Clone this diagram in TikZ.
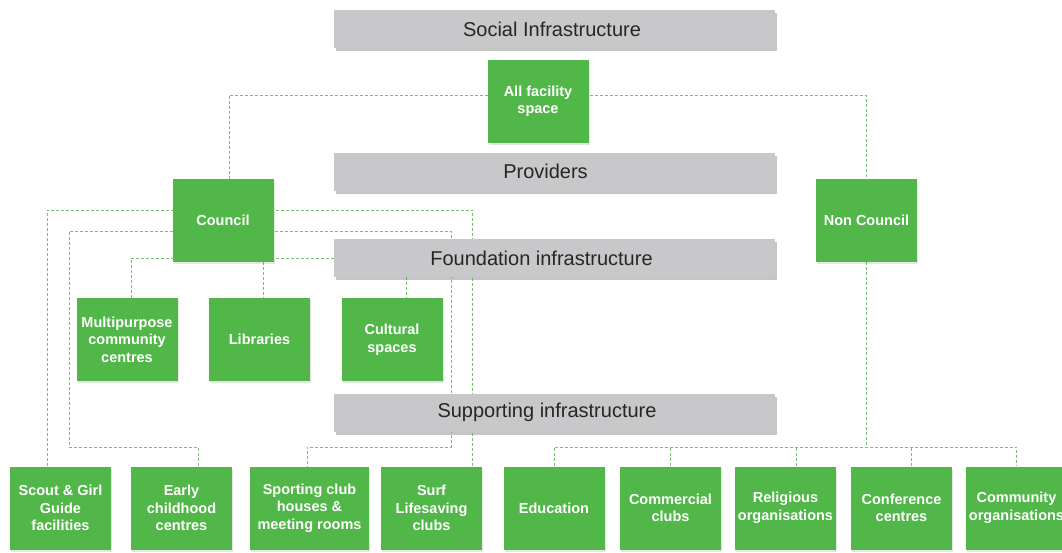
\documentclass[tikz,border=0pt]{standalone}
\usepackage{fontspec}
\setmainfont{Liberation Sans}
\usetikzlibrary{shadows}
\definecolor{leaf}{RGB}{80,183,72}
\definecolor{linkgreen}{RGB}{118,194,108}
\definecolor{barfill}{RGB}{200,200,202}
\pgfdeclarelayer{back}
\pgfsetlayers{back,main}

\begin{document}
\begin{tikzpicture}[x=1pt, y=-1pt,
    bar/.style={fill=barfill, minimum width=441pt, minimum height=38pt, inner sep=0pt,
        font=\fontsize{20}{24}\selectfont, text=black!85,
        drop shadow={shadow xshift=1.5pt, shadow yshift=-3pt, opacity=0.45}},
    box/.style={fill=leaf, minimum width=101pt, minimum height=83pt, inner sep=0pt,
        align=center, text=white, font=\fontsize{14.5}{17.5}\selectfont\bfseries,
        drop shadow={shadow xshift=1pt, shadow yshift=-2pt, opacity=0.2}},
    link/.style={linkgreen, line width=0.9pt, dash pattern=on 3pt off 2pt}]
\useasboundingbox (0,0) rectangle (1062,552);

% levels
\node[bar] (social) at (554.5,29) {Social Infrastructure\hspace*{5pt}};
\node[bar] (providers) at (554.5,171.5) {Providers\hspace*{18pt}};
\node[bar] (foundation) at (554.5,258) {Foundation infrastructure\hspace*{26pt}};
\node[bar] (supporting) at (554.5,412.5) {Supporting infrastructure\hspace*{15pt}};

% boxes
\node[box] (all) at (538,101) {All facility\\space};
\node[box] (council) at (223,220.5) {Council};
\node[box] (noncouncil) at (866.5,220) {Non Council};
\node[box] (multi) at (127,339.5) {Multipurpose\\community\\centres};
\node[box] (libraries) at (259.5,339.5) {Libraries};
\node[box] (cultural) at (392,339.5) {Cultural\\spaces};
\node[box] (scout) at (60.5,508) {Scout \& Girl\\Guide\\facilities};
\node[box] (early) at (181.5,508) {Early\\childhood\\centres};
\node[box, minimum width=119pt] (sporting) at (309.5,508) {Sporting club\\houses \&\\meeting rooms};
\node[box] (surf) at (431.5,508) {Surf\\Lifesaving\\clubs};
\node[box] (education) at (554,508) {Education};
\node[box] (commercial) at (670.5,508) {Commercial\\clubs};
\node[box] (religious) at (785.5,508) {Religious\\organisations};
\node[box] (conference) at (901.5,508) {Conference\\centres};
\node[box] (community) at (1016.5,508) {Community\\organisations};

\coordinate (e1) at (69,447);
\coordinate (e2) at (451,447);

\begin{pgfonlayer}{back}
\fill[white] (0,0) rectangle (1062,552);
% providers
\draw[link] ([xshift=6pt]council.north) |- ([yshift=6pt]all.center) -| (noncouncil.north);
% council
\draw[link] ([xshift=-13.5pt]scout.north) |- ([yshift=10.5pt]council.center) -| ([xshift=41pt]surf.north);
\draw[link] ([xshift=16.5pt]early.north) |- (e1) |- ([yshift=-10.5pt]council.center) -| (e2) -| ([xshift=-2.5pt]sporting.north);
\draw[link] ([xshift=4pt]multi.north) |- (foundation.west);
\draw[link] ([xshift=40pt]council.south) -- ([xshift=3.5pt]libraries.north);
\draw[link] ([xshift=-148.5pt]foundation.south) -- ([xshift=14pt]cultural.north);
% non council
\draw[link] (noncouncil.south) -- (noncouncil.south |- e1);
\draw[link] (education.north) |- (e1 -| community.north) -- (community.north);
\draw[link] (commercial.north) -- (commercial.north |- e1);
\draw[link] ([xshift=10.5pt]religious.north) -- ([xshift=10.5pt]religious.north |- e1);
\draw[link] ([xshift=9.5pt]conference.north) -- ([xshift=9.5pt]conference.north |- e1);
\end{pgfonlayer}
\end{tikzpicture}
\end{document}
